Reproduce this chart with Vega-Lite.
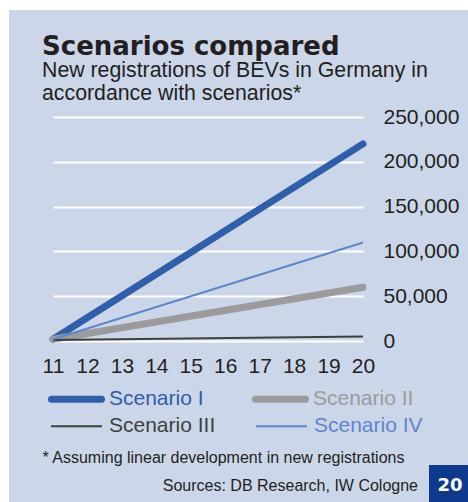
{
  "$schema": "https://vega.github.io/schema/vega-lite/v6.json",
  "background": "#ccd6e9",
  "padding": 0,
  "config": {"view": {"stroke": null}},
  "spacing": 0,
  "vconcat": [
    {
      "width": 468, "height": 10,
      "data": {"values": [{"k": 1}]},
      "mark": {"type": "rect", "color": "white"}
    },
    {
      "spacing": 30,
      "hconcat": [
        {
          "width": 9, "height": 492,
          "data": {"values": [{"k": 1}]},
          "mark": {"type": "rect", "color": "white"}
        },
        {
          "spacing": 0,
          "vconcat": [
            {
              "width": 1, "height": 23,
              "data": {"values": [{"k": 1}]},
              "mark": {"type": "rect", "opacity": 0}
            },
            {
              "width": 310, "height": 224,
              "title": {
                "text": "Scenarios compared",
                "subtitle": ["New registrations of BEVs in Germany in", "accordance with scenarios*"],
                "anchor": "start", "frame": "group", "dx": -11,
                "font": "DejaVu Sans", "fontSize": 26, "fontWeight": "bold", "color": "#231f20",
                "subtitleFont": "Liberation Sans", "subtitleFontSize": 21.3, "subtitleColor": "#231f20",
                "subtitleLineHeight": 23, "subtitlePadding": 0, "offset": 2
              },
              "data": {"values": [
                {"scenario": "Scenario I", "year": 11, "value": 2000},
                {"scenario": "Scenario I", "year": 20, "value": 220000},
                {"scenario": "Scenario II", "year": 11, "value": 2000},
                {"scenario": "Scenario II", "year": 20, "value": 60000},
                {"scenario": "Scenario III", "year": 11, "value": 1000},
                {"scenario": "Scenario III", "year": 20, "value": 5000},
                {"scenario": "Scenario IV", "year": 11, "value": 2000},
                {"scenario": "Scenario IV", "year": 20, "value": 110000}
              ]},
              "encoding": {
                "x": {
                  "field": "year", "type": "quantitative",
                  "scale": {"domain": [11, 20], "nice": false, "zero": false},
                  "axis": {
                    "orient": "bottom", "values": [11, 12, 13, 14, 15, 16, 17, 18, 19, 20], "format": "d",
                    "grid": false, "domain": false, "ticks": false, "tickSize": 0,
                    "labelPadding": 14, "labelFont": "Liberation Sans", "labelFontSize": 21, "labelColor": "#231f20",
                    "labelFlush": false, "labelOverlap": false, "labelBound": false,
                    "title": "* Assuming linear development in new registrations",
                    "titleFont": "Liberation Sans", "titleFontSize": 16, "titleFontWeight": "normal", "titleColor": "#231f20",
                    "titleAlign": "left", "titleAnchor": "start", "titleBaseline": "alphabetic",
                    "titleX": -11, "titleY": 121
                  }
                },
                "y": {
                  "field": "value", "type": "quantitative",
                  "scale": {"domain": [0, 250000], "nice": false},
                  "axis": {
                    "orient": "right", "values": [0, 50000, 100000, 150000, 200000, 250000], "format": ",.0f",
                    "grid": true, "gridColor": "white", "gridWidth": 2, "gridOpacity": 1,
                    "domain": false, "ticks": false, "tickSize": 0,
                    "labelPadding": 20, "labelFont": "Liberation Sans", "labelFontSize": 21, "labelColor": "#231f20",
                    "labelFlush": false, "labelOverlap": false, "title": null
                  }
                }
              },
              "layer": [
                {
                  "transform": [{"filter": {"field": "scenario", "oneOf": ["Scenario I", "Scenario II"]}}],
                  "mark": {"type": "line", "strokeCap": "round", "strokeWidth": 7},
                  "encoding": {
                    "stroke": {
                      "field": "scenario", "type": "nominal",
                      "scale": {"domain": ["Scenario I", "Scenario II"], "range": ["#2f5eab", "#9b9b9b"]},
                      "legend": {
                        "orient": "none", "legendX": 48, "legendY": 370.5, "columns": 2, "direction": "horizontal",
                        "title": null, "padding": 0,
                        "symbolType": "stroke", "symbolSize": 2500, "symbolStrokeWidth": 7,
                        "labelFont": "Liberation Sans", "labelFontSize": 21, "labelOffset": 4,
                        "columnPadding": 37,
                        "encode": {
                          "symbols": {"update": {"strokeCap": {"value": "round"}}},
                          "labels": {"update": {"fill": {"signal": "scale('stroke', datum.value)"}}}
                        }
                      }
                    }
                  }
                },
                {
                  "transform": [{"filter": {"field": "scenario", "oneOf": ["Scenario III", "Scenario IV"]}}],
                  "mark": {"type": "line", "strokeWidth": 2},
                  "encoding": {
                    "color": {
                      "field": "scenario", "type": "nominal",
                      "scale": {"domain": ["Scenario III", "Scenario IV"], "range": ["#3f3f3f", "#5d87cc"]},
                      "legend": {
                        "orient": "none", "legendX": 50, "legendY": 399.5, "columns": 2, "direction": "horizontal",
                        "title": null, "padding": 0,
                        "symbolType": "stroke", "symbolSize": 2601, "symbolStrokeWidth": 2,
                        "labelFont": "Liberation Sans", "labelFontSize": 21, "labelOffset": 6,
                        "columnPadding": 36,
                        "encode": {
                          "labels": {"update": {"fill": {"signal": "scale('color', datum.value)"}}}
                        }
                      }
                    }
                  }
                }
              ]
            },
            {
              "spacing": 11,
              "hconcat": [
                {
                  "width": 365, "height": 37,
                  "data": {"values": [{"note": "Sources: DB Research, IW Cologne"}]},
                  "mark": {"type": "text", "align": "right", "baseline": "middle", "font": "Liberation Sans", "fontSize": 16, "color": "#231f20", "dy": 2},
                  "encoding": {
                    "text": {"field": "note", "type": "nominal"},
                    "x": {"value": "width"}
                  }
                },
                {
                  "width": 40, "height": 37,
                  "view": {"fill": "#0e3a8e", "stroke": null},
                  "data": {"values": [{"label": "20"}]},
                  "layer": [
                    {"mark": {"type": "rect", "color": "#0e3a8e"}},
                    {
                      "mark": {"type": "text", "font": "DejaVu Sans", "fontSize": 18, "fontWeight": "bold", "color": "white", "dx": 1, "dy": 2},
                      "encoding": {"text": {"field": "label", "type": "nominal"}}
                    }
                  ]
                }
              ]
            }
          ]
        }
      ]
    }
  ]
}
